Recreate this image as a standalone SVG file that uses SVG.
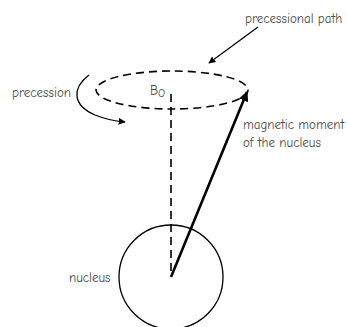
<svg xmlns="http://www.w3.org/2000/svg" width="347" height="327" viewBox="0 0 347 327">
<style>
.lbl{font-family:"Comic Neue","DejaVu Sans","Liberation Sans",sans-serif;font-size:13px;fill:#4a4a4a}
.dash{fill:none;stroke:#000;stroke-width:1.6;stroke-dasharray:8,5}
.ln{fill:none;stroke:#000;stroke-width:1.3}
</style>
<defs>
<marker id="ah" viewBox="0 0 10 10" refX="9" refY="5" markerWidth="7" markerHeight="7" markerUnits="userSpaceOnUse" orient="auto">
<path d="M0,0 L10,5 L0,10 Z" fill="#000"/>
</marker>
<marker id="ahb" viewBox="0 0 10 10" refX="9" refY="5" markerWidth="10" markerHeight="10" markerUnits="userSpaceOnUse" orient="auto">
<path d="M0,0 L10,5 L0,10 Z" fill="#000"/>
</marker>
</defs>
<rect width="347" height="327" fill="#fff"/>
<g id="path-ellipse">
<ellipse class="dash" cx="172" cy="90" rx="76" ry="19"/>
</g>
<g id="nucleus">
<circle cx="171" cy="277" r="52" fill="none" stroke="#000" stroke-width="1.3"/>
<text class="lbl" x="69" y="282">nucleus</text>
</g>
<g id="b0">
<text class="lbl" x="150" y="95">B<tspan font-size="11" dy="2">O</tspan></text>
</g>
<g id="labels">
<text class="lbl" x="245" y="23">precessional path</text>
<text class="lbl" x="12" y="97">precession</text>
<text class="lbl" x="243" y="129">magnetic moment</text>
<text class="lbl" x="243" y="147">of the nucleus</text>
</g>
<g id="connectors">
<line class="dash" x1="171" y1="94" x2="171" y2="275"/>
<line x1="171" y1="277" x2="247" y2="92" stroke="#000" stroke-width="2.6" marker-end="url(#ahb)"/>
<line class="ln" x1="258" y1="27" x2="209" y2="63" marker-end="url(#ah)"/>
<path class="ln" d="M89,75 C72,88 72,105 95,115 C105,119 115,121 125,122" marker-end="url(#ah)"/>
</g>
</svg>
